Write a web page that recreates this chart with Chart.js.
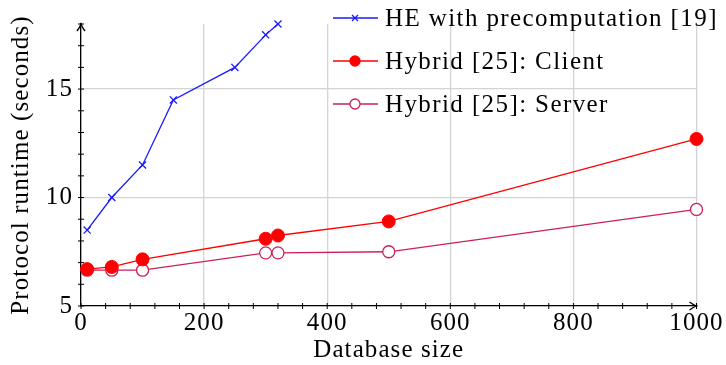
<!DOCTYPE html>
<html>
<head>
<meta charset="utf-8">
<script src="https://cdn.jsdelivr.net/npm/chart.js@4.4.1/dist/chart.umd.min.js"></script>
<style>
  html, body { margin: 0; padding: 0; background: #fff; }
  #wrap { width: 726px; height: 365px; }
</style>
</head>
<body>
<div id="wrap"><canvas id="runtimeChart"></canvas></div>
<script>
// valores
const heSizes = [10, 50, 100, 150, 250, 300, 320];
const heTimes = [8.5, 10.0, 11.5, 14.5, 16.0, 17.5, 18.0];

const hybridSizes = [10, 50, 100, 300, 320, 500, 1000];
const clientTimes = [6.7, 6.8, 7.15, 8.1, 8.25, 8.9, 12.7];
const serverTimes = [6.65, 6.65, 6.65, 7.45, 7.45, 7.5, 9.45];

const xTicks = [0, 200, 400, 600, 800, 1000];
const yTicks = [5, 10, 15];
const seriesNames = ['HE with precomputation [19]', 'Hybrid [25]: Client', 'Hybrid [25]: Server'];

const FONT = "'Liberation Serif', 'Times New Roman', serif";
const BLUE = '#1a1aff';
const RED = '#ff0000';
const PURPLE = '#cc1f5c';

function toPoints(xs, ys) {
    return xs.map((x, i) => ({ x: x, y: ys[i] }));
}

// la fuente original (Computer Modern) es mas ancha, se abre un poco el texto
const spacingPlugin = {
    id: 'spacing',
    beforeDraw(chart) {
        chart.ctx.letterSpacing = '1.1px';
    }
};

// leyenda dibujada a mano (linea + marcador + texto)
const legendPlugin = {
    id: 'tikzLegend',
    afterDraw(chart) {
        const ctx = chart.ctx;
        const rows = [18, 61, 104];
        ctx.save();
        chart.data.datasets.forEach((ds, i) => {
            const y = rows[i];
            ctx.strokeStyle = ds.borderColor;
            ctx.lineWidth = 1.3;
            ctx.beginPath();
            ctx.moveTo(333, y);
            ctx.lineTo(378, y);
            ctx.stroke();
            if (ds.pointStyle === 'crossRot') {
                const r = 3;
                ctx.beginPath();
                ctx.moveTo(355 - r, y - r); ctx.lineTo(355 + r, y + r);
                ctx.moveTo(355 - r, y + r); ctx.lineTo(355 + r, y - r);
                ctx.stroke();
            } else {
                ctx.beginPath();
                ctx.arc(355, y, 5, 0, Math.PI * 2);
                ctx.fillStyle = ds.pointBackgroundColor;
                ctx.fill();
                ctx.stroke();
            }
            ctx.fillStyle = '#000';
            ctx.font = '25px ' + FONT;
            ctx.letterSpacing = '1.4px';
            ctx.textBaseline = 'middle';
            ctx.textAlign = 'left';
            ctx.fillText(seriesNames[i], 385, y + 1);
        });
        ctx.restore();
    }
};

// flechas en los ejes y marcas menores
const axisPlugin = {
    id: 'tikzAxes',
    afterDraw(chart) {
        const ctx = chart.ctx;
        const xs = chart.scales.x, ys = chart.scales.y;
        const area = chart.chartArea;
        ctx.save();
        ctx.strokeStyle = '#000';
        ctx.fillStyle = '#000';
        ctx.lineWidth = 1;
        for (let v = xs.min; v <= xs.max; v += 40) {
            const px = xs.getPixelForValue(v);
            ctx.beginPath();
            ctx.moveTo(px, area.bottom - 3);
            ctx.lineTo(px, area.bottom + 3);
            ctx.stroke();
        }
        for (let v = ys.min; v <= ys.max; v += 1) {
            const py = ys.getPixelForValue(v);
            ctx.beginPath();
            ctx.moveTo(area.left - 3, py);
            ctx.lineTo(area.left + 3, py);
            ctx.stroke();
        }
        // flecha eje y
        ctx.lineWidth = 1.3;
        ctx.beginPath();
        ctx.moveTo(area.left - 4, area.top + 7);
        ctx.quadraticCurveTo(area.left - 1, area.top + 3, area.left, area.top);
        ctx.quadraticCurveTo(area.left + 1, area.top + 3, area.left + 4, area.top + 7);
        ctx.stroke();
        // flecha eje x
        ctx.beginPath();
        ctx.moveTo(area.right - 7, area.bottom - 4);
        ctx.quadraticCurveTo(area.right - 3, area.bottom - 1, area.right, area.bottom);
        ctx.quadraticCurveTo(area.right - 3, area.bottom + 1, area.right - 7, area.bottom + 4);
        ctx.stroke();
        ctx.restore();
    }
};

const ctx = document.getElementById('runtimeChart').getContext('2d');
const runtimeChart = new Chart(ctx, {
    type: 'scatter',
    data: {
        datasets: [{
            label: seriesNames[0],
            data: toPoints(heSizes, heTimes),
            showLine: true,
            borderColor: BLUE,
            borderWidth: 1.3,
            pointStyle: 'crossRot',
            pointRadius: 5,
            pointBorderWidth: 1.3,
            pointBorderColor: BLUE,
            pointBackgroundColor: BLUE,
            clip: false
        }, {
            label: seriesNames[1],
            data: toPoints(hybridSizes, clientTimes),
            showLine: true,
            borderColor: RED,
            borderWidth: 1.3,
            pointStyle: 'circle',
            pointRadius: 6.5,
            pointBorderWidth: 1,
            pointBorderColor: RED,
            pointBackgroundColor: RED,
            clip: false
        }, {
            label: seriesNames[2],
            data: toPoints(hybridSizes, serverTimes),
            showLine: true,
            borderColor: PURPLE,
            borderWidth: 1.3,
            pointStyle: 'circle',
            pointRadius: 6,
            pointBorderWidth: 1.3,
            pointBorderColor: PURPLE,
            pointBackgroundColor: '#ffffff',
            clip: false
        }]
    },
    options: {
        responsive: true,
        maintainAspectRatio: false,
        animation: false,
        layout: { padding: { left: 0, right: 29.5, top: 24, bottom: 0 } },
        plugins: {
            legend: { display: false },
            tooltip: { enabled: false }
        },
        scales: {
            x: {
                type: 'linear',
                min: 0,
                max: 1000,
                afterBuildTicks: axis => { axis.ticks = xTicks.map(v => ({ value: v })); },
                afterFit: scale => { scale.height = 59; },
                ticks: {
                    color: '#000',
                    font: { family: FONT, size: 25 },
                    padding: 2,
                    maxRotation: 0,
                    callback: v => String(v)
                },
                grid: { color: '#d4d4d4', lineWidth: 1.3, drawTicks: false },
                border: { color: '#000', width: 1.3 },
                title: {
                    display: true,
                    text: 'Database size',
                    color: '#000',
                    font: { family: FONT, size: 25 },
                    padding: { top: 0, bottom: 0 }
                }
            },
            y: {
                type: 'linear',
                min: 5,
                max: 18,
                afterBuildTicks: axis => { axis.ticks = yTicks.map(v => ({ value: v })); },
                afterFit: scale => { scale.width = 81; },
                ticks: {
                    color: '#000',
                    font: { family: FONT, size: 25 },
                    padding: 8,
                    callback: v => String(v)
                },
                grid: { color: '#d4d4d4', lineWidth: 1.3, drawTicks: false },
                border: { color: '#000', width: 1.3 },
                title: {
                    display: true,
                    text: 'Protocol runtime (seconds)',
                    color: '#000',
                    font: { family: FONT, size: 25 },
                    padding: { top: 6, bottom: 0 }
                }
            }
        }
    },
    plugins: [spacingPlugin, axisPlugin, legendPlugin]
});
</script>
</body>
</html>
